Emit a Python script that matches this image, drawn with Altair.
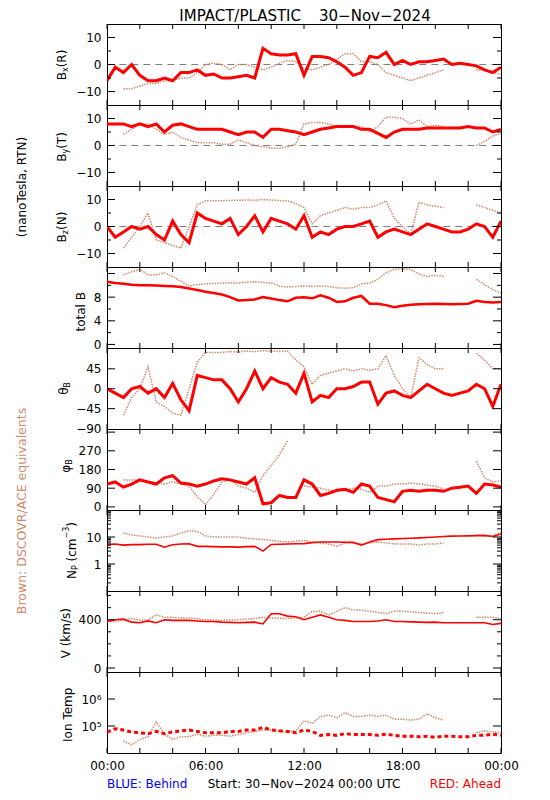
import altair as alt
import pandas as pd

# ---------------- data ----------------
HOURS = [0, 0.5, 1, 1.5, 2, 2.5, 3, 3.5, 4, 4.5,
         5, 5.5, 6, 6.5, 7, 7.5, 8, 8.5, 9, 9.5,
         10, 10.5, 11, 11.5, 12, 12.5, 13, 13.5, 14, 14.5,
         15, 15.5, 16, 16.5, 17, 17.5, 18, 18.5, 19, 19.5,
         20, 20.5, 21, 21.5, 22, 22.5, 23, 23.5, 24]

BX_RED = [-6, -1, -3, 0, -4, -6, -6, -5, -6, -3,
          -3, -2, -4, -3.5, -5, -5, -4.5, -4, -5, 6,
          4, 3.5, 3.5, 4, -4, 3, 3, 2.5, 1, -1,
          -4, -3, 3, 2.5, 4.5, 0, 1.5, 0, 1, 1,
          1.5, 2, 0, 0.5, 0, -0.5, -2, -3, -1]
BX_BROWN = [None, None, -9, -9, -8, -7, -7, -6, -6, -5,
            -5, -3, 0, 0.5, 0, -2, 0, 0, -1, -2,
            -1, 0.5, 1.5, 1, -1.5, -2, -1, 0, 2, 4,
            4, 1, 1, 0, -3, -4, -5, -6, -5, -4,
            -3, -2, None, None, None, -2, -2, -3, -3.5]

BY_RED = [8, 8, 8, 7, 8, 7, 8, 5, 7.5, 8,
          7, 6, 6, 6, 6, 5, 4, 5, 5, 3,
          6, 6, 5.5, 5, 4, 5, 6, 6.5, 7, 7,
          7, 6, 6, 4.5, 3, 5, 6, 6, 6, 6.5,
          6.5, 6.5, 6.5, 6.5, 7, 6.5, 6.5, 5, 6]
BY_BROWN = [None, None, 4, 6, 8, 8, 6, 4, 5, 3,
            2, 1, 1, 1, 0.5, 0.5, 2, 1, 0, -0.5,
            -1, -1, -0.5, 0.5, 8, 8.5, 8.5, 8, 7, 7,
            7, 7, 5, 7, 10.5, 10.5, 10, 8, 9.5, 7,
            7.5, 7, None, None, None, 0, 1.5, 3.5, 4.5]

BZ_RED = [0, -4, -2, 0, -1, 0, -3, -5, 2, -3,
          -6, 5, 3, 2, 1, 3, -3, 0, 4, -2,
          3, 2, 1, -1, 4, -4, -2, -3, -1, 0,
          0, 1, 2, -4, -2, -1, -2, -3, -1, 1,
          0, -1, -2, -2, -1, 1, 0, -4, 2]
BZ_BROWN = [None, None, -8, -4, 0, 5, -5, -6, -7, -8,
            0, 8, 9.5, 9.5, 9.5, 9.7, 9.7, 9.8, 9.7, 10,
            9.8, 9.6, 9.5, 8.5, 7, 1, 4, 5, 6, 7,
            6.5, 7, 7, 8, 9.5, 3, 0, -3, 9, 8,
            7.5, 7, None, None, None, 8, 7, 6, 5]

BT_RED = [10.6, 10.4, 10.25, 10.1, 10.0, 10.0, 9.97, 9.9, 9.86, 9.7,
          9.46, 9.2, 8.9, 8.7, 8.45, 8.0, 7.44, 7.5, 7.6, 8.0,
          7.77, 7.5, 7.3, 7.9, 8.0, 7.8, 8.3, 7.9, 7.2, 7.3,
          7.9, 8.2, 6.9, 6.9, 6.65, 6.3, 6.55, 6.7, 6.8, 6.85,
          6.9, 6.85, 6.8, 6.85, 6.9, 7.4, 7.2, 7.1, 7.2]
BT_BROWN = [None, None, 11.8, 12.3, 12.7, 11.8, 11.8, 12.1, 11.5, 10.7,
            9.9, 10.1, 10.25, 10.3, 10.4, 10.4, 10.4, 10.5, 10.6, 10.5,
            10.4, 9.9, 9.7, 9.8, 9.9, 9.8, 9.9, 9.8, 9.6, 9.5,
            9.6, 10.25, 10.4, 11, 12.1, 12.7, 12.8, 12.7, 11.9, 11.5,
            11.7, 11.5, None, None, None, 11, 10.1, 9.3, 8.7]

TH_RED = [0, -10, -20, 0, 5, -10, 0, -20, 12, -25,
          -50, 30, 25, 20, 20, 0, -30, 0, 40, 0,
          25, 15, 10, -10, 35, -30, -15, -20, 0, 0,
          5, 15, 15, -35, -10, -5, -15, -20, -5, 10,
          0, -10, -15, -10, -5, 10, 0, -40, 10]
TH_BROWN = [None, None, -60, -20, 0, 50, -30, -40, -55, -60,
            0, 60, 82, 82, 82, 84, 83, 85, 84, 86,
            85, 84, 85, 65, 50, 10, 30, 35, 40, 45,
            40, 45, 42, 45, 75, 30, 0, -20, 70, 55,
            45, 45, None, None, None, 80, 65, 45, 45]

PH_RED = [110, 120, 95, 110, 130, 120, 110, 140, 150, 115,
          110, 100, 110, 125, 135, 130, 120, 110, 140, 15,
          20, 55, 45, 45, 130, 110, 55, 65, 80, 85,
          70, 110, 100, 45, 35, 25, 75, 80, 75, 80,
          80, 75, 90, 95, 100, 65, 110, 105, 95]
PH_BROWN = [None, None, 130, 130, 130, 120, 115, 110, 120, 110,
            100, 50, 10, 60, 120, 130, 100, 90, 70, 150,
            200, 250, 320, None, 100, 95, 90, 80, 75, 80,
            90, 85, 70, 100, 100, 110, 110, 115, 110, 105,
            100, 85, None, None, None, 220, 140, 120, 125]

NP_RED = [5.3, 5.5, 5.0, 5.2, 5.2, 5.4, 5.4, 4.2, 5.2, 5.5,
          5.6, 4.5, 4.5, 4.4, 4.3, 4.3, 4.2, 4.4, 4.5, 3.0,
          5.3, 5.4, 5.5, 5.6, 5.7, 6.2, 6.5, 6.5, 6.5, 6.4,
          6.3, 5.0, 6.5, 8.0, 8.3, 8.5, 8.8, 9.0, 9.3, 9.6,
          10, 10.4, 10.8, 10.9, 11, 11.2, 11.5, 10.5, 13]
NP_BROWN = [None, None, 14, 12, 11, 10, 9, 10, 11, 14,
            17, 16, 11, 10, 10, 10, 10, 9, 8.5, 8,
            7.5, 7, 6.5, 7, 7.5, 6.5, 6, 5.5, 4.5, 6,
            6, 5.5, 6, 6.5, 6, 5.5, 5.5, 5.5, 5, 5.5,
            5.5, 6, None, None, None, 12, 11, 11, 15]

V_RED = [385, 400, 405, 380, 375, 390, 375, 400, 395, 395,
         395, 390, 385, 385, 380, 378, 375, 378, 380, 365,
         450, 450, 430, 425, 400, 420, 440, 420, 400, 395,
         385, 385, 385, 390, 400, 385, 385, 382, 380, 378,
         380, 375, 375, 375, 375, 375, 375, 360, 370]
V_BROWN = [385, 385, 400, 410, 395, 400, 440, 420, 420, 415,
           415, 408, 400, 398, 395, 398, 400, 405, 410, 420,
           415, 412, 410, 415, 420, 470, 470, 440, 470, 500,
           480, 480, 470, 460, 450, 470, 470, 465, 460, 455,
           450, 460, None, None, None, 420, 420, 420, 410]

T_RED = [60000, 79000, 71000, 60000, 56000, 52000, 63000, 52000, 60000, 66000,
         71000, 63000, 56000, 56000, 56000, 63000, 63000, 71000, 71000, 89000,
         71000, 66000, 63000, 56000, 71000, 63000, 45000, 48000, 45000, 52000,
         48000, 48000, 48000, 45000, 50000, 45000, 42000, 42000, 40000, 42000,
         38000, 42000, 42000, 40000, 40000, 45000, 45000, 50000, 45000]
T_BROWN = [None, None, 28000, 20000, 32000, 40000, 141000, 50000, 32000, 40000,
           40000, 50000, 42000, 45000, 45000, 42000, 48000, 56000, 63000, 71000,
           71000, 63000, 60000, 66000, 158000, 126000, 224000, 251000, 200000, 316000,
           224000, 224000, 251000, 224000, 251000, 178000, 178000, 166000, 178000, 282000,
           200000, 166000, None, None, None, 56000, 66000, 60000, 56000]

X_TICK_HOURS = [0, 2, 4, 6, 8, 10, 12, 14, 16, 18, 20, 22, 24]
X_LABEL_HOURS = [0, 6, 12, 18, 24]
ZERO_LINE_HOURS = [0.75, 24]
ZERO_LINE_VALUES = [0, 0]

NP_MINOR = [0.2, 0.3, 0.4, 0.5, 0.6, 0.7, 0.8, 0.9, 2, 3, 4, 5, 6, 7, 8, 9,
            20, 30, 40, 50, 60, 70, 80, 90]

# ---------------- styling ----------------
RED = "#FF0000"
BROWN = "#CD8A6E"
GREY = "#808080"
FONT = "DejaVu Sans"
PW, PH = 394, 81
X_SCALE = alt.Scale(domain=[0, 24], nice=False, zero=False)
DUMMY = pd.DataFrame({"a": [0]})

# DejaVu Sans advance widths (em)
CW = {"B": .686, "x": .592, "y": .592, "z": .525, "(": .390, ")": .390, "R": .695,
      "T": .611, "N": .748, "P": .603, "c": .550, "m": .974, "\u2212": .838,
      "3": .636, " ": .318, "\u03b8": .602, "\u03c6": .652}


def tw(s, size):
    return sum(CW.get(c, 0.6) for c in s) * size


def text_layer(t, x, y, size=12, color="black", align="center", baseline="middle", angle=0):
    kw = dict(align=align, baseline=baseline, fontSize=size, font=FONT, color=color)
    if angle:
        kw["angle"] = angle
    return alt.Chart(DUMMY).mark_text(**kw).encode(
        x=alt.value(x), y=alt.value(y), text=alt.value(t))


def vtitle(pieces, cx, cy):
    total = sum(tw(t, s) for t, s, d in pieces)
    y = cy + total / 2
    out = []
    for t, s, d in pieces:
        lead = len(t) - len(t.lstrip(" "))
        y -= tw(" " * lead, s)
        out.append(text_layer(t.lstrip(" "), cx + d, y, size=s, align="left", angle=270))
        y -= tw(t.lstrip(" "), s)
    return out


def frame(vals):
    rows, seg = [], 0
    for h, v in zip(HOURS, vals):
        if v is None:
            seg += 1
            continue
        rows.append({"h": h, "v": v, "seg": seg})
    return pd.DataFrame(rows)


def panel(p, bottom=False, extra=()):
    ysc = alt.Scale(domain=p["domain"], nice=False, zero=False, type=p.get("type", "linear"))
    ax_kw = dict(values=p["labels"], ticks=False, tickSize=0, domain=False, grid=False,
                 labelPadding=6, labelFontSize=12, labelFont=FONT, labelColor="black",
                 labelOverlap=False, title=None)
    if "fmt" in p:
        ax_kw["format"] = p["fmt"]
    if "lexpr" in p:
        ax_kw["labelExpr"] = p["lexpr"]
    yaxis = alt.Axis(**ax_kw)
    if bottom:
        xaxis = alt.Axis(values=X_LABEL_HOURS, ticks=False, tickSize=0, domain=False, grid=False,
                         labelPadding=7, labelFontSize=12, labelFont=FONT, labelColor="black",
                         labelFlush=False, title=None,
                         labelExpr="datum.value == 24 ? '00:00' : (datum.value < 10 ? '0' : '') + datum.value + ':00'")
    else:
        xaxis = None

    def X():
        return alt.X("h:Q", scale=X_SCALE, axis=xaxis)

    def Y():
        return alt.Y("v:Q", scale=ysc, axis=yaxis)

    layers = []
    if p.get("zero"):
        zdf = pd.DataFrame({"h": ZERO_LINE_HOURS, "v": ZERO_LINE_VALUES})
        layers.append(alt.Chart(zdf).mark_line(color=GREY, strokeWidth=1, strokeDash=[7, 5]).encode(
            x=X(), y=Y()))

    layers.append(alt.Chart(frame(p["brown"])).mark_line(
        color=BROWN, strokeWidth=1.5, strokeDash=[1.5, 1.2], clip=True).encode(
        x=X(), y=Y(), detail="seg:N"))

    red_kw = dict(color=RED, strokeWidth=p.get("rw", 3), clip=True)
    if "rdash" in p:
        red_kw["strokeDash"] = p["rdash"]
    layers.append(alt.Chart(frame(p["red"])).mark_line(**red_kw).encode(
        x=X(), y=Y(), detail="seg:N"))

    # x ticks (inward, top & bottom)
    xt = pd.DataFrame({"h": X_TICK_HOURS})
    for y0, y1 in ((0, 5), (PH, PH - 5)):
        layers.append(alt.Chart(xt).mark_rule(color="black", strokeWidth=1).encode(
            x=X(), y=alt.value(y0), y2=alt.value(y1)))
    # y ticks (inward, left & right)
    for vals, ln in ((p["major"], 8), (p.get("minor", []), 4)):
        if not vals:
            continue
        tdf = pd.DataFrame({"v": vals})
        for x0, x1 in ((0, ln), (PW, PW - ln)):
            layers.append(alt.Chart(tdf).mark_rule(color="black", strokeWidth=1).encode(
                y=Y(), x=alt.value(x0), x2=alt.value(x1)))

    layers += vtitle(p["title"], p["cx"], p["cy"])
    layers += list(extra)
    return alt.layer(*layers).properties(width=PW, height=PH)


PANELS = [
    dict(red=BX_RED, brown=BX_BROWN, domain=[-15, 15], major=[-10, 0, 10], minor=[-5, 5],
         labels=[-10, 0, 10], zero=True,
         title=[("B", 12, 0), ("x", 8, 4), ("(R)", 12, 0)], cx=-45, cy=41),
    dict(red=BY_RED, brown=BY_BROWN, domain=[-15, 15], major=[-10, 0, 10], minor=[-5, 5],
         labels=[-10, 0, 10], zero=True,
         title=[("B", 12, 0), ("y", 8, 4), ("(T)", 12, 0)], cx=-45, cy=42),
    dict(red=BZ_RED, brown=BZ_BROWN, domain=[-15, 15], major=[-10, 0, 10], minor=[-5, 5],
         labels=[-10, 0, 10], zero=True,
         title=[("B", 12, 0), ("z", 8, 4), ("(N)", 12, 0)], cx=-45, cy=41),
    dict(red=BT_RED, brown=BT_BROWN, domain=[-0.6, 13.1], major=[0, 4, 8, 12], minor=[2, 6, 10],
         labels=[0, 4, 8], rw=2.5,
         title=[("total B", 12, 0)], cx=-26, cy=40.5),
    dict(red=TH_RED, brown=TH_BROWN, domain=[-91, 92], major=[-45, 0, 45], minor=[],
         labels=[-90, -45, 0, 45],
         title=[("\u03b8", 12, 0), ("B", 8, 4)], cx=-43, cy=40.5),
    dict(red=PH_RED, brown=PH_BROWN, domain=[-15, 375], major=[0, 90, 180, 270, 360], minor=[],
         labels=[0, 90, 180, 270],
         title=[("\u03c6", 12, 0), ("B", 8, 4)], cx=-41, cy=37),
    dict(red=NP_RED, brown=NP_BROWN, domain=[0.1, 100], type="log", major=[1, 10],
         minor=NP_MINOR, labels=[1, 10], fmt="d", rw=1.6,
         title=[("N", 12, 0), ("P", 8, 4), (" (cm", 12, 0), ("\u22123", 8, -5), (")", 12, 0)],
         cx=-35, cy=40.5),
    dict(red=V_RED, brown=V_BROWN, domain=[-33, 638], major=[0, 400], minor=[100, 200, 300, 500, 600],
         labels=[0, 400], rw=1.6,
         title=[("V (km/s)", 12, 0)], cx=-41, cy=40.5),
    dict(red=T_RED, brown=T_BROWN, domain=[10000, 10000000], type="log", major=[100000, 1000000],
         minor=[], labels=[100000, 1000000], rw=3, rdash=[4, 3],
         lexpr="datum.value < 500000 ? '10\u2075' : '10\u2076'",
         title=[("Ion Temp", 12, 0)], cx=-39, cy=40.5),
]

top_extra = [
    text_layer("IMPACT/PLASTIC", 194, -15, size=15, align="right", baseline="top"),
    text_layer("30\u2212Nov\u22122024", 212, -15, size=15, align="left", baseline="top"),
    text_layer("(nanoTesla, RTN)", -85, 163, size=12, angle=270),
    text_layer("Brown: DSCOVR/ACE equivalents", -85, 487, size=12.5, color=BROWN, angle=270),
]
bottom_extra = [
    text_layer("BLUE: Behind", 0, 112, size=12, color="#0000FF", align="left"),
    text_layer("Start: 30\u2212Nov\u22122024 00:00 UTC", 197, 112, size=12),
    text_layer("RED: Ahead", PW, 112, size=12, color=RED, align="right"),
]

panels = []
for i, p in enumerate(PANELS):
    extra = top_extra if i == 0 else (bottom_extra if i == len(PANELS) - 1 else ())
    panels.append(panel(p, bottom=(i == len(PANELS) - 1), extra=extra))

chart = (alt.vconcat(*panels, spacing=0, bounds="flush")
         .properties(padding={"left": 7, "top": 0, "right": 4, "bottom": 4})
         .configure(font=FONT)
         .configure_view(stroke="black", strokeWidth=1))

chart.save("out.html", embed_options={"renderer": "svg", "actions": False})
